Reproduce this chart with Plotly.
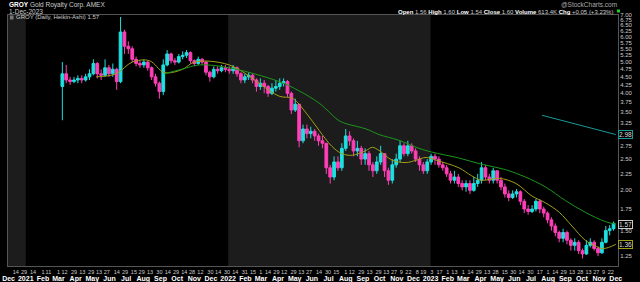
import plotly.graph_objects as go
import math

# ---------------- data (weekly Heikin-Ashi approximation) ----------------
week = [
 "2021-03-08","2021-03-15","2021-03-22","2021-03-29","2021-04-05","2021-04-12","2021-04-19","2021-04-26",
 "2021-05-03","2021-05-10","2021-05-17","2021-05-24","2021-05-31","2021-06-07","2021-06-14","2021-06-21",
 "2021-06-28","2021-07-05","2021-07-12","2021-07-19","2021-07-26","2021-08-02","2021-08-09","2021-08-16",
 "2021-08-23","2021-08-30","2021-09-06","2021-09-13","2021-09-20","2021-09-27","2021-10-04","2021-10-11",
 "2021-10-18","2021-10-25","2021-11-01","2021-11-08","2021-11-15","2021-11-22","2021-11-29","2021-12-06",
 "2021-12-13","2021-12-20","2021-12-27",
 "2022-01-03","2022-01-10","2022-01-17","2022-01-24","2022-01-31","2022-02-07","2022-02-14","2022-02-21",
 "2022-02-28","2022-03-07","2022-03-14","2022-03-21","2022-03-28","2022-04-04","2022-04-11","2022-04-18",
 "2022-04-25","2022-05-02","2022-05-09","2022-05-16","2022-05-23","2022-05-30","2022-06-06","2022-06-13",
 "2022-06-20","2022-06-27","2022-07-04","2022-07-11","2022-07-18","2022-07-25","2022-08-01","2022-08-08",
 "2022-08-15","2022-08-22","2022-08-29","2022-09-05","2022-09-12","2022-09-19","2022-09-26","2022-10-03",
 "2022-10-10","2022-10-17","2022-10-24","2022-10-31","2022-11-07","2022-11-14","2022-11-21","2022-11-28",
 "2022-12-05","2022-12-12","2022-12-19","2022-12-26",
 "2023-01-02","2023-01-09","2023-01-16","2023-01-23","2023-01-30","2023-02-06","2023-02-13","2023-02-20",
 "2023-02-27","2023-03-06","2023-03-13","2023-03-20","2023-03-27","2023-04-03","2023-04-10","2023-04-17",
 "2023-04-24","2023-05-01","2023-05-08","2023-05-15","2023-05-22","2023-05-29","2023-06-05","2023-06-12",
 "2023-06-19","2023-06-26","2023-07-03","2023-07-10","2023-07-17","2023-07-24","2023-07-31","2023-08-07",
 "2023-08-14","2023-08-21","2023-08-28","2023-09-04","2023-09-11","2023-09-18","2023-09-25","2023-10-02",
 "2023-10-09","2023-10-16","2023-10-23","2023-10-30","2023-11-06","2023-11-13","2023-11-20","2023-11-27",
]
ha_open = [
 4.20,4.60,4.40,4.35,4.40,4.45,4.40,4.50, 4.60,4.95,4.60,4.55,4.80,4.60,4.75,4.35,
 6.20,5.60,5.50,5.10,4.95,4.90,5.00,4.80, 4.50,4.30,4.05,4.90,5.30,5.05,5.00,5.20,
 5.25,5.35,5.05,4.95,5.10,5.00,4.65,4.50, 4.75,4.70,4.80,
 4.75,4.70,4.80,4.60,4.40,4.50,4.55,4.40, 4.20,4.30,4.20,4.00,4.15,4.20,4.30,4.35,
 4.00,3.55,3.70,2.85,3.10,3.00,3.05,2.95, 2.85,2.80,2.35,2.20,2.45,2.35,2.70,2.95,
 2.85,2.65,2.70,2.50,2.60,2.40,2.30,2.45, 2.60,2.30,2.15,2.40,2.50,2.75,2.60,2.75,
 2.65,2.50,2.40,2.30,
 2.45,2.55,2.50,2.40,2.35,2.25,2.15,2.20, 2.10,2.05,2.10,2.00,2.10,2.15,2.35,2.20,
 2.15,2.30,2.15,2.05,1.95,1.90,1.95,1.98, 1.85,1.75,1.72,1.75,1.85,1.75,1.70,1.62,
 1.55,1.48,1.42,1.48,1.40,1.35,1.38,1.30, 1.27,1.35,1.38,1.32,1.28,1.38,1.50,1.52,
]
ha_high = [
 5.00,4.90,4.50,4.50,4.55,4.55,4.60,4.75, 5.10,5.00,4.75,5.10,4.90,4.95,4.80,6.90,
 6.30,5.80,5.60,5.20,5.05,5.10,5.05,4.85, 4.60,4.35,5.10,5.45,5.35,5.15,5.30,5.40,
 5.45,5.40,5.10,5.20,5.15,5.05,4.70,4.85, 4.85,4.90,4.90,
 4.85,4.90,4.85,4.65,4.60,4.65,4.60,4.45, 4.45,4.40,4.25,4.30,4.40,4.45,4.45,4.40,
 4.05,3.85,3.70,3.20,3.20,3.15,3.10,3.00, 2.95,2.80,2.40,2.55,2.55,2.80,3.10,3.05,
 2.90,2.85,2.75,2.70,2.65,2.45,2.55,2.75, 2.60,2.35,2.50,2.60,2.85,2.80,2.85,2.80,
 2.70,2.55,2.45,2.50,
 2.60,2.60,2.55,2.45,2.40,2.30,2.30,2.25, 2.15,2.15,2.15,2.20,2.25,2.45,2.40,2.25,
 2.35,2.30,2.20,2.10,2.00,2.00,2.02,2.00, 1.88,1.80,1.80,1.88,1.88,1.78,1.72,1.65,
 1.58,1.50,1.52,1.50,1.42,1.42,1.40,1.32, 1.40,1.42,1.40,1.34,1.42,1.55,1.56,1.60,
]
ha_low = [
 3.30,4.30,4.25,4.30,4.30,4.30,4.35,4.40, 4.55,4.45,4.40,4.50,4.50,4.50,4.10,4.30,
 5.30,5.30,5.00,4.85,4.80,4.80,4.70,4.40, 4.20,3.85,3.95,4.85,4.95,4.90,4.95,5.10,
 5.15,4.95,4.85,4.90,4.90,4.55,4.35,4.45, 4.60,4.65,4.65,
 4.60,4.60,4.50,4.30,4.30,4.40,4.30,4.05, 4.10,4.00,3.90,3.95,4.05,4.10,4.20,3.90,
 3.45,3.50,2.72,2.80,2.90,2.90,2.85,2.75, 2.70,2.25,2.10,2.15,2.30,2.30,2.65,2.75,
 2.55,2.55,2.40,2.40,2.30,2.20,2.25,2.40, 2.20,2.08,2.10,2.35,2.45,2.55,2.55,2.60,
 2.45,2.30,2.25,2.25,
 2.40,2.40,2.35,2.30,2.20,2.10,2.10,2.05, 2.00,1.98,1.95,1.98,2.05,2.10,2.15,2.10,
 2.10,2.10,2.00,1.90,1.85,1.88,1.90,1.80, 1.70,1.68,1.70,1.72,1.70,1.65,1.58,1.50,
 1.44,1.38,1.38,1.36,1.30,1.30,1.27,1.23, 1.26,1.33,1.30,1.25,1.27,1.37,1.45,1.50,
]
ha_close = [
 4.60,4.40,4.35,4.40,4.45,4.40,4.50,4.60, 4.95,4.60,4.55,4.80,4.60,4.75,4.35,6.20,
 5.60,5.50,5.10,4.95,4.90,5.00,4.80,4.50, 4.30,4.05,4.90,5.30,5.05,5.00,5.20,5.25,
 5.35,5.05,4.95,5.10,5.00,4.65,4.50,4.75, 4.70,4.80,4.75,
 4.70,4.80,4.60,4.40,4.50,4.55,4.40,4.20, 4.30,4.20,4.00,4.15,4.20,4.30,4.35,4.00,
 3.55,3.70,2.85,3.10,3.00,3.05,2.95,2.85, 2.80,2.35,2.20,2.45,2.35,2.70,2.95,2.85,
 2.65,2.70,2.50,2.60,2.40,2.30,2.45,2.60, 2.30,2.15,2.40,2.50,2.75,2.60,2.75,2.65,
 2.50,2.40,2.30,2.45,
 2.55,2.50,2.40,2.35,2.25,2.15,2.20,2.10, 2.05,2.10,2.00,2.10,2.15,2.35,2.20,2.15,
 2.30,2.15,2.05,1.95,1.90,1.95,1.98,1.85, 1.75,1.72,1.75,1.85,1.75,1.70,1.62,1.55,
 1.48,1.42,1.48,1.40,1.35,1.38,1.30,1.27, 1.35,1.38,1.32,1.28,1.38,1.50,1.52,1.58,
]

# moving averages
ma50_dates = ["2021-05-08","2021-06-13","2021-07-12","2021-08-12","2021-09-08","2021-10-11","2021-11-01",
              "2022-01-03","2022-04-03","2022-04-27","2022-05-22","2022-06-14","2022-07-07","2022-07-25",
              "2022-08-13","2022-09-07","2022-09-18","2022-09-30","2022-10-24","2022-11-18","2022-12-06",
              "2022-12-24","2023-01-11","2023-02-21","2023-03-16","2023-04-03","2023-05-05","2023-06-04",
              "2023-07-03","2023-07-27","2023-08-21","2023-09-13","2023-10-07","2023-10-27","2023-11-06",
              "2023-11-18","2023-12-01"]
ma50_vals = [4.50,4.60,5.00,5.05,4.64,4.75,5.00,
             4.90,3.92,3.86,3.47,3.07,2.74,2.60,
             2.57,2.66,2.72,2.66,2.48,2.44,2.48,
             2.53,2.48,2.35,2.22,2.15,2.18,2.10,
             1.92,1.83,1.71,1.55,1.40,1.34,1.32,
             1.33,1.36]
ma200_dates = ["2021-09-08","2021-10-11","2021-11-10","2022-01-03","2022-04-03","2022-05-09","2022-06-14",
               "2022-07-20","2022-08-02","2022-09-07","2022-09-30","2022-11-05","2022-12-11","2023-01-03",
               "2023-02-21","2023-04-03","2023-05-16","2023-06-21","2023-07-27","2023-09-01","2023-10-07",
               "2023-11-12","2023-12-01"]
ma200_vals = [4.60,4.76,4.90,4.80,4.35,4.07,3.73,
              3.29,3.22,3.10,2.98,2.86,2.70,2.63,
              2.52,2.41,2.32,2.20,2.05,1.86,1.71,
              1.60,1.57]
teal_dates = ["2023-07-21", "2023-12-01"]
teal_vals = [3.42, 2.98]

ytick_vals = [1.25,1.50,1.75,2.00,2.25,2.50,2.75,3.00,3.25,3.50,3.75,4.00,4.25,4.50,4.75,
              5.00,5.25,5.50,5.75,6.00,6.25,6.50,6.75,7.00]
ytick_text = ["1.25","1.50","1.75","2.00","2.25","2.50","2.75","","3.25","3.50","3.75","4.00","4.25","4.50","4.75",
              "5.00","5.25","5.50","5.75","6.00","6.25","6.50","6.75","7.00"]

month_ticks = ["2020-12-01","2021-01-01","2021-02-01","2021-03-01","2021-04-01","2021-05-01","2021-06-01",
               "2021-07-01","2021-08-01","2021-09-01","2021-10-01","2021-11-01","2021-12-01",
               "2022-01-01","2022-02-01","2022-03-01","2022-04-01","2022-05-01","2022-06-01",
               "2022-07-01","2022-08-01","2022-09-01","2022-10-01","2022-11-01","2022-12-01",
               "2023-01-01","2023-02-01","2023-03-01","2023-04-01","2023-05-01","2023-06-01",
               "2023-07-01","2023-08-01","2023-09-01","2023-10-01","2023-11-01","2023-12-01"]
month_text = ["Dec","2021","Feb","Mar","Apr","May","Jun","Jul","Aug","Sep","Oct","Nov","Dec",
              "2022","Feb","Mar","Apr","May","Jun","Jul","Aug","Sep","Oct","Nov","Dec",
              "2023","Feb","Mar","Apr","May","Jun","Jul","Aug","Sep","Oct","Nov","Dec"]
day_ticks = ["2020-12-14","2020-12-29",
             "2021-01-14","2021-02-01","2021-02-11","2021-03-01","2021-03-12","2021-03-29","2021-04-13",
             "2021-04-29","2021-05-13","2021-05-27","2021-06-14","2021-06-29","2021-07-15","2021-07-29",
             "2021-08-13","2021-08-30","2021-09-14","2021-09-29","2021-10-14","2021-10-28","2021-11-12",
             "2021-11-30","2021-12-14","2021-12-30",
             "2022-01-14","2022-01-31","2022-02-15","2022-03-01","2022-03-14","2022-03-29","2022-04-12",
             "2022-04-29","2022-05-13","2022-05-27","2022-06-14","2022-06-30","2022-07-15","2022-08-01",
             "2022-08-12","2022-08-29","2022-09-13","2022-09-29","2022-10-13","2022-10-27","2022-11-09",
             "2022-11-22","2022-12-08","2022-12-19",
             "2023-01-03","2023-01-17","2023-02-01","2023-02-13","2023-03-01","2023-03-14","2023-03-29",
             "2023-04-13","2023-04-28","2023-05-15","2023-05-30","2023-06-14","2023-06-30","2023-07-17",
             "2023-08-01","2023-08-14","2023-08-29","2023-09-13","2023-09-28","2023-10-13","2023-10-27",
             "2023-11-09","2023-11-22"]
day_text = [d[-2:].lstrip("0") for d in day_ticks]

# ---------------- geometry ----------------
W_, H_ = 640, 282
L, R, T, B = 8, 618, 15, 266
PW, PH = R - L, B - T
def px(x): return (x - L) / PW
def py(y): return (B - y) / PH

X0, X1 = "2020-11-30", "2023-12-05"
Y0, Y1 = 1.165, 7.0

CYAN = "#1fe0e0"
PINK = "#ff3fb8"
OLIVE = "#a0a018"
GREEN = "#1c961c"
TEAL = "#1a9a9a"
FONT = "Liberation Sans, Arial, sans-serif"

fig = go.Figure()
fig.add_trace(go.Candlestick(
    x=week, open=ha_open, high=ha_high, low=ha_low, close=ha_close,
    increasing=dict(line=dict(color=CYAN, width=1), fillcolor=CYAN),
    decreasing=dict(line=dict(color=PINK, width=1), fillcolor=PINK),
    whiskerwidth=0, showlegend=False, hoverinfo="skip"))
fig.add_trace(go.Scatter(x=ma50_dates, y=ma50_vals, mode="lines", line=dict(color=OLIVE, width=1, shape="spline"),
                         showlegend=False, hoverinfo="skip"))
fig.add_trace(go.Scatter(x=ma200_dates, y=ma200_vals, mode="lines", line=dict(color=GREEN, width=1, shape="spline"),
                         showlegend=False, hoverinfo="skip"))
fig.add_trace(go.Scatter(x=teal_dates, y=teal_vals, mode="lines", line=dict(color=TEAL, width=1),
                         showlegend=False, hoverinfo="skip"))
# dummy trace for day-number axis
fig.add_trace(go.Scatter(x=[X0, X1], y=[None, None], xaxis="x2", mode="lines", showlegend=False, hoverinfo="skip"))

shapes = [
    dict(type="rect", xref="x", yref="paper", x0=X0, x1="2021-01-01", y0=0, y1=1,
         fillcolor="#1c1c1c", line=dict(width=0), layer="below"),
    dict(type="rect", xref="x", yref="paper", x0="2022-01-01", x1="2023-01-01", y0=0, y1=1,
         fillcolor="#1c1c1c", line=dict(width=0), layer="below"),
    # green status square in header
    dict(type="rect", xref="paper", yref="paper", x0=px(617), x1=px(620), y0=py(12.5), y1=py(9.5),
         fillcolor="#22cc22", line=dict(width=0)),
]

ann = []
def add_text(x, y, text, size=6.5, color="#cccccc", xanchor="left"):
    ann.append(dict(xref="paper", yref="paper", x=px(x), y=py(y), text=text, showarrow=False,
                    xanchor=xanchor, yanchor="middle", font=dict(family=FONT, size=size, color=color)))

def b(s):
    return f"<b><span style='color:#ffffff'>{s}</span></b>"

add_text(7, 5, b("GROY") + " Gold Royalty Corp. AMEX")
add_text(7, 11.5, "1-Dec-2023")
add_text(615, 11.5, f"{b('Open')} 1.56 {b('High')} 1.60 {b('Low')} 1.54 {b('Close')} 1.60 "
                    f"{b('Volume')} 613.4K {b('Chg')} +0.05 (+3.23%)", size=6, xanchor="right")
add_text(619, 4.5, "@StockCharts.com", color="#aaaaaa", xanchor="right")
add_text(14, 17.5, "GROY (Daily, Heikin-Ashi) 1.57", size=6)
shapes.append(dict(type="rect", xref="paper", yref="paper", x0=px(10), x1=px(13.5), y0=py(19.5), y1=py(15.5),
                   fillcolor="#777777", line=dict(width=0)))

# value boxes on the right axis
def value_box(v, border):
    ann.append(dict(xref="paper", yref="y", x=1.0, y=math.log10(v), text=f"{v:.2f}", showarrow=False,
                    xanchor="left", yanchor="middle", bgcolor="#000000", bordercolor=border,
                    borderwidth=1, borderpad=0, font=dict(family=FONT, size=6.5, color="#dddddd")))
value_box(teal_vals[-1], TEAL)
value_box(ma200_vals[-1], "#cccccc")
value_box(ma50_vals[-1], OLIVE)

fig.update_layout(
    width=W_, height=H_, margin=dict(l=L, r=W_ - R, t=T, b=H_ - B),
    paper_bgcolor="#000000", plot_bgcolor="#000000",
    font=dict(family=FONT, size=7, color="#cccccc"),
    shapes=shapes, annotations=ann, boxgap=0.0,
    xaxis=dict(type="date", range=[X0, X1], tickvals=month_ticks, ticktext=[f"<b>{t}</b>" for t in month_text],
               tickfont=dict(family=FONT, size=7, color="#ffffff"), ticks="", showgrid=False, zeroline=False,
               showline=True, mirror=True, linecolor="#555555", linewidth=1, rangeslider=dict(visible=False),
               ticklabelstandoff=6, tickangle=0, automargin=False),
    xaxis2=dict(type="date", overlaying="x", side="bottom", range=[X0, X1], tickvals=day_ticks, ticktext=day_text,
                tickfont=dict(family=FONT, size=5.5, color="#cccccc"), ticks="", showgrid=False, zeroline=False,
                showline=False, anchor="y", ticklabelstandoff=1, tickangle=0, automargin=False),
    yaxis=dict(type="log", range=[math.log10(Y0), math.log10(Y1)], side="right", tickvals=ytick_vals,
               ticktext=ytick_text, tickfont=dict(family=FONT, size=6, color="#cccccc"), ticks="",
               showgrid=False, zeroline=False, showline=True, mirror=True, linecolor="#555555", linewidth=1,
               automargin=False),
    hovermode=False,
)

fig.write_html("out.html")
